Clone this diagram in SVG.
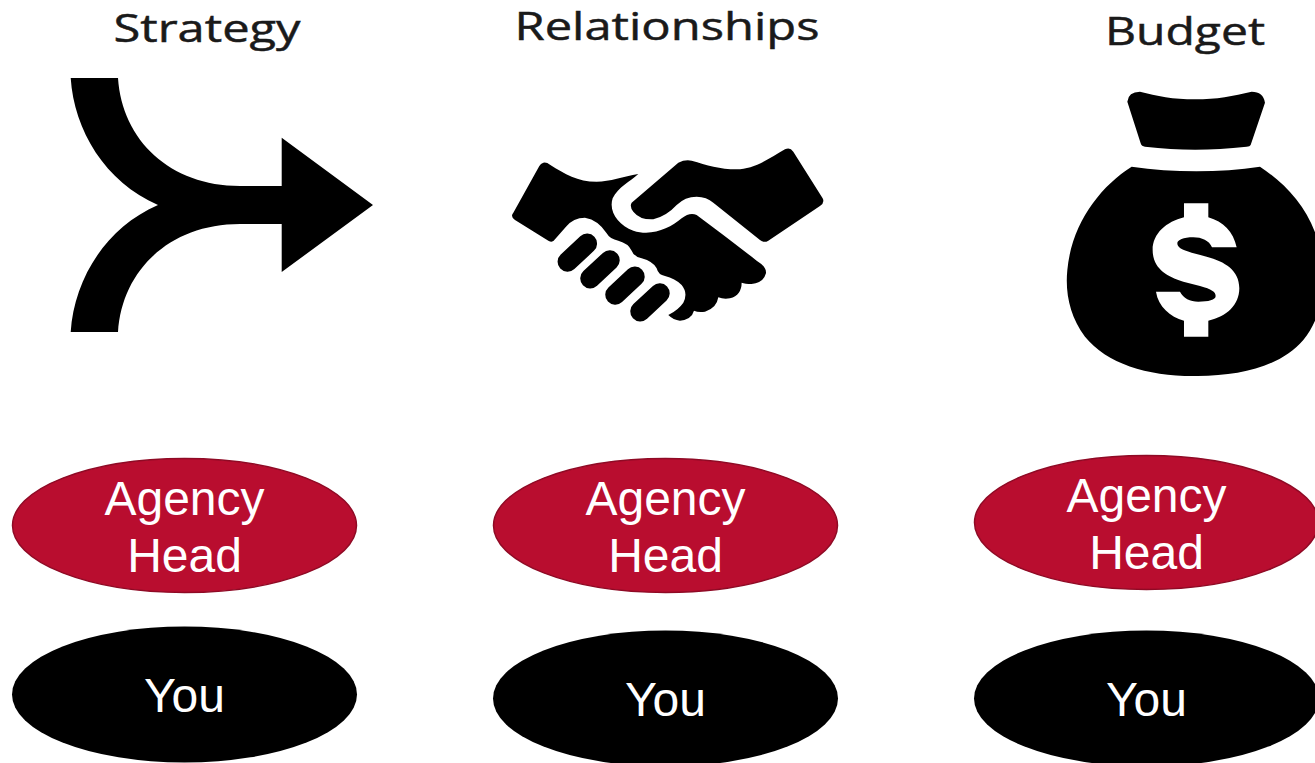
<svg xmlns="http://www.w3.org/2000/svg" width="1315" height="763" viewBox="0 0 1315 763">
<style>
.t{font-family:"Open Sans","Noto Sans",sans-serif;font-size:39px;fill:#1a1a1a;stroke:#1a1a1a;stroke-width:.5;text-anchor:middle}
.l{font-family:"Liberation Sans",Arial,sans-serif;font-size:48px;fill:#fff;text-anchor:middle}
.r{fill:#b90d2f;stroke:#8f0a25;stroke-width:1.5}
.k{fill:#000}
</style>
<rect width="1315" height="763" fill="#fff"/>
<g id="strategy">
<text class="t" x="207" y="42" textLength="187" lengthAdjust="spacingAndGlyphs">Strategy</text>
<path class="k" d="M70.700 78H118C122 140 170 186 240 186H281.700V137.700L373 205L281.700 272V224H240C170 224 122 270 118 332H70.700C74 280 105 228 158 205C105 182 74 130 70.700 78Z"/>
</g>
<g id="relationships">
<text class="t" x="667" y="40" textLength="305" lengthAdjust="spacingAndGlyphs">Relationships</text>
<g transform="translate(490 130) scale(.3333)">
<path class="k" d="M160 98Q170 96 180 104C225 132 262 155 320 155C360 155 400 140 445 132C420 155 385 170 368 205C355 245 385 285 430 302C485 320 540 295 575 265Q600 245 620 255C680 300 740 345 800 392Q830 410 828 430Q820 460 785 462Q765 462 755 458Q755 495 720 505Q700 508 685 502Q680 535 645 545Q625 548 612 542Q605 568 570 572Q550 570 535 555Q565 540 580 518Q595 490 575 465Q555 445 525 438Q505 435 500 415Q490 395 455 385Q432 380 425 362Q415 340 385 332Q360 328 350 310Q325 270 285 263Q250 263 228 290L195 328Q188 340 175 332L75 270Q60 260 70 248L148 108Q152 100 160 98Z"/>
<path class="k" d="M425 218L565 98Q585 88 605 92C650 105 690 118 740 118C790 118 840 85 885 58Q900 50 910 65L998 205Q1005 218 990 228L835 332Q822 340 810 330L670 218Q650 200 620 200Q585 200 560 225Q530 258 490 268Q450 270 430 245Q418 230 425 218Z"/>
<rect class="k" x="192" y="338" width="140" height="60" rx="30" transform="rotate(-43 262 368)"/>
<rect class="k" x="260" y="388" width="140" height="60" rx="30" transform="rotate(-43 330 418)"/>
<rect class="k" x="335" y="437" width="140" height="60" rx="30" transform="rotate(-43 405 467)"/>
<rect class="k" x="410" y="487" width="140" height="60" rx="30" transform="rotate(-43 480 517)"/>
</g>
</g>
<g id="budget">
<text class="t" x="1185" y="45" textLength="160" lengthAdjust="spacingAndGlyphs">Budget</text>
<g transform="translate(1050 80) scale(.3333)">
<path class="k" d="M232 65Q235 35 270 35C320 48 370 58 435 58C500 58 550 48 605 35Q640 35 645 68L602 195Q600 200 590 200C480 212 390 212 285 200Q275 200 272 190Z"/>
<path class="k" fill-rule="evenodd" d="M245 260C370 278 510 278 630 260C720 320 800 410 815 540C825 640 810 720 760 780C690 860 570 890 430 888C290 888 170 850 105 770C60 710 45 640 52 570C65 430 150 320 245 260ZM402 370V412C350 425 308 460 308 510C308 565 350 590 400 605L450 618C485 628 497 635 497 648C497 660 475 665 445 665C420 665 400 655 390 635H318C325 680 360 710 402 722V770H475V722C530 710 568 675 568 625C568 570 525 545 470 530L425 518C395 510 382 502 382 490C382 480 400 472 430 472C455 472 478 482 486 502H560C550 455 520 425 475 412V370Z"/>
</g>
</g>
<g id="agency-head-1"><ellipse class="r" cx="184.500" cy="525.500" rx="172" ry="67"/><text class="l" x="184.500" y="515">Agency</text><text class="l" x="184.500" y="572">Head</text></g>
<g id="agency-head-2"><ellipse class="r" cx="665.500" cy="525.500" rx="172" ry="67"/><text class="l" x="665.500" y="515">Agency</text><text class="l" x="665.500" y="572">Head</text></g>
<g id="agency-head-3"><ellipse class="r" cx="1146.500" cy="522.500" rx="172" ry="67"/><text class="l" x="1146.500" y="512">Agency</text><text class="l" x="1146.500" y="569">Head</text></g>
<g id="you-1"><ellipse class="k" cx="184.500" cy="694.500" rx="172.500" ry="68"/><text class="l" x="184.500" y="712">You</text></g>
<g id="you-2"><ellipse class="k" cx="665.500" cy="698.500" rx="172.500" ry="68"/><text class="l" x="665.500" y="716">You</text></g>
<g id="you-3"><ellipse class="k" cx="1146.500" cy="698.500" rx="172.500" ry="68"/><text class="l" x="1146.500" y="716">You</text></g>
<g id="connectors"/>
</svg>
